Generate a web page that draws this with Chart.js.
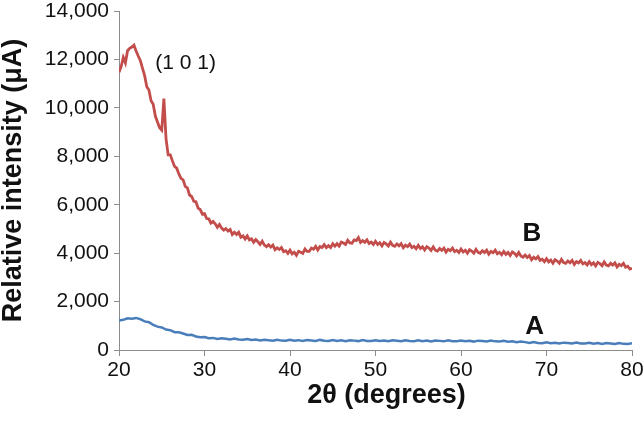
<!DOCTYPE html>
<html>
<head>
<meta charset="utf-8">
<script src="https://cdn.jsdelivr.net/npm/chart.js@4/dist/chart.umd.min.js"></script>
<style>
  html, body { margin: 0; padding: 0; background: #fff; }
  #wrap { width: 644px; height: 422px; }
</style>
</head>
<body>
<div id="wrap"><canvas id="xrdChart" width="644" height="422"></canvas></div>
<script>
/* ======================================
   DATA
====================================== */
const startAngle = 20;
const stepB = 0.25;   // degrees between B readings
const stepA = 0.5;    // degrees between A readings

// sample B, relative intensity (uA), 20..80 deg
const intensityB = [
  11470,11700,12080,11860,12360,12460,12510,12590,12350,12140,
  11950,11630,11330,10870,10740,10290,10150,9660,9420,9180,
  9080,10380,8730,8060,8060,7810,7580,7510,7270,7090,
  7030,6760,6700,6400,6340,6140,6120,5860,5800,5610,
  5630,5430,5420,5240,5310,5210,5070,5180,5030,4950,
  5010,4910,4980,4770,4860,4770,4860,4660,4710,4580,
  4710,4550,4590,4450,4560,4470,4360,4490,4330,4270,
  4350,4250,4330,4140,4220,4150,4230,4060,4100,3990,
  4120,3970,4040,3910,4080,4040,3990,4170,4070,4070,
  4210,4160,4280,4130,4270,4230,4350,4230,4310,4230,
  4390,4290,4390,4290,4460,4420,4360,4530,4420,4410,
  4550,4520,4640,4440,4520,4450,4550,4400,4460,4360,
  4490,4360,4430,4300,4440,4380,4295,4450,4320,4280,
  4380,4300,4390,4220,4330,4270,4375,4230,4285,4185,
  4320,4190,4260,4130,4270,4210,4115,4260,4120,4085,
  4190,4115,4210,4045,4160,4105,4210,4065,4120,4030,
  4170,4045,4120,3995,4140,4085,4000,4155,4030,3995,
  4100,4025,4120,3955,4070,4015,4120,3975,4030,3935,
  4070,3950,4030,3905,4050,3990,3890,4030,3880,3830,
  3920,3820,3900,3725,3830,3765,3860,3705,3750,3645,
  3770,3640,3715,3585,3730,3675,3585,3740,3610,3575,
  3680,3605,3700,3535,3650,3595,3700,3555,3610,3515,
  3650,3525,3600,3475,3620,3565,3480,3635,3510,3475,
  3580,3505,3600,3430,3540,3480,3580,3420,3460,3340,
  3380
];

// sample A, relative intensity (uA), 20..80 deg
const intensityA = [
  1220,1245,1310,1295,1325,1270,1180,1145,1040,965,
  930,845,820,735,735,680,620,625,560,530,
  540,490,500,455,485,462,435,475,435,425,
  455,415,435,393,425,405,380,425,388,383,
  420,383,407,371,410,394,373,417,381,375,
  410,374,399,363,403,387,367,411,376,370,
  405,369,394,358,398,382,362,406,371,365,
  400,364,389,353,393,377,357,401,366,360,
  395,359,383,347,386,370,349,393,357,351,
  385,345,365,323,355,325,290,330,290,283,
  315,279,302,266,304,288,266,310,273,267,
  300,263,286,249,287,270,248,291,254,247,
  280
];

const xTicks = [20, 30, 40, 50, 60, 70, 80];
const yTicks = [0, 2000, 4000, 6000, 8000, 10000, 12000, 14000];

const xTitle = "2θ (degrees)";
const yTitle = "Relative intensity (μA)";

// text labels placed in data space
const peakLabel = { text: "(1 0 1)", x: 27.8, y: 11850 };
const seriesLabels = [
  { text: "B", x: 68.3, y: 4800 },
  { text: "A", x: 68.6, y: 960 }
];


/* ======================================
   HELPERS
====================================== */
function toPoints(values, step) {
    return values.map((v, i) => ({ x: startAngle + i * step, y: v }));
}

const FONT = "'Liberation Sans', Arial, sans-serif";

const labelPlugin = {
    id: "xrdLabels",
    afterDatasetsDraw(chart) {
        const ctx = chart.ctx;
        const xs = chart.scales.x;
        const ys = chart.scales.y;
        const area = chart.chartArea;
        ctx.save();
        ctx.fillStyle = "#111";
        ctx.textAlign = "center";
        ctx.textBaseline = "middle";

        ctx.font = "21px " + FONT;
        ctx.fillText(peakLabel.text, xs.getPixelForValue(peakLabel.x), ys.getPixelForValue(peakLabel.y));

        ctx.font = "bold 26px " + FONT;
        seriesLabels.forEach(l => {
            ctx.fillText(l.text, xs.getPixelForValue(l.x), ys.getPixelForValue(l.y));
        });

        // x axis title, sits a little right of the plot centre
        ctx.font = "bold 27px " + FONT;
        ctx.fillText(xTitle, (area.left + area.right) / 2 + 11, area.bottom + 45.5);
        ctx.restore();
    }
};


/* ======================================
   CHART
====================================== */
const axisGray = "#8c8c8c";
const tickFont = { family: FONT, size: 21 };
const titleFont = { family: FONT, size: 27, weight: "bold", lineHeight: 1 };

new Chart(document.getElementById("xrdChart").getContext("2d"), {
    type: "line",
    data: {
        datasets: [
            {
                label: "B",
                data: toPoints(intensityB, stepB),
                borderColor: "#c24d4b",
                borderWidth: 2.8,
                pointRadius: 0,
                tension: 0
            },
            {
                label: "A",
                data: toPoints(intensityA, stepA),
                borderColor: "#4a7ebb",
                borderWidth: 2.5,
                pointRadius: 0,
                tension: 0
            }
        ]
    },
    options: {
        responsive: false,
        animation: false,
        layout: { padding: { top: 11, right: 12, bottom: 0, left: 0 } },
        plugins: {
            legend: { display: false },
            tooltip: { enabled: false }
        },
        scales: {
            x: {
                type: "linear",
                min: 20,
                max: 80,
                afterBuildTicks: s => { s.ticks = xTicks.map(v => ({ value: v })); },
                afterFit: s => { s.height = 72; s.paddingLeft = 0; s.paddingRight = 0; },
                ticks: { color: "#111", font: tickFont, padding: 2, maxRotation: 0 },
                grid: { drawOnChartArea: false, drawTicks: true, tickLength: 6, color: axisGray },
                border: { color: axisGray, width: 1 }
            },
            y: {
                min: 0,
                max: 14000,
                afterBuildTicks: s => { s.ticks = yTicks.map(v => ({ value: v })); },
                afterFit: s => { s.width = 119; s.paddingTop = 0; s.paddingBottom = 0; },
                ticks: {
                    color: "#111",
                    font: tickFont,
                    padding: 5,
                    callback: v => v.toLocaleString("en-US")
                },
                grid: { drawOnChartArea: false, drawTicks: true, tickLength: 5, color: axisGray },
                border: { color: axisGray, width: 1 },
                title: {
                    display: true,
                    text: yTitle,
                    color: "#111",
                    font: titleFont,
                    padding: { top: 0, bottom: 0 }
                }
            }
        }
    },
    plugins: [labelPlugin]
});
</script>
</body>
</html>
